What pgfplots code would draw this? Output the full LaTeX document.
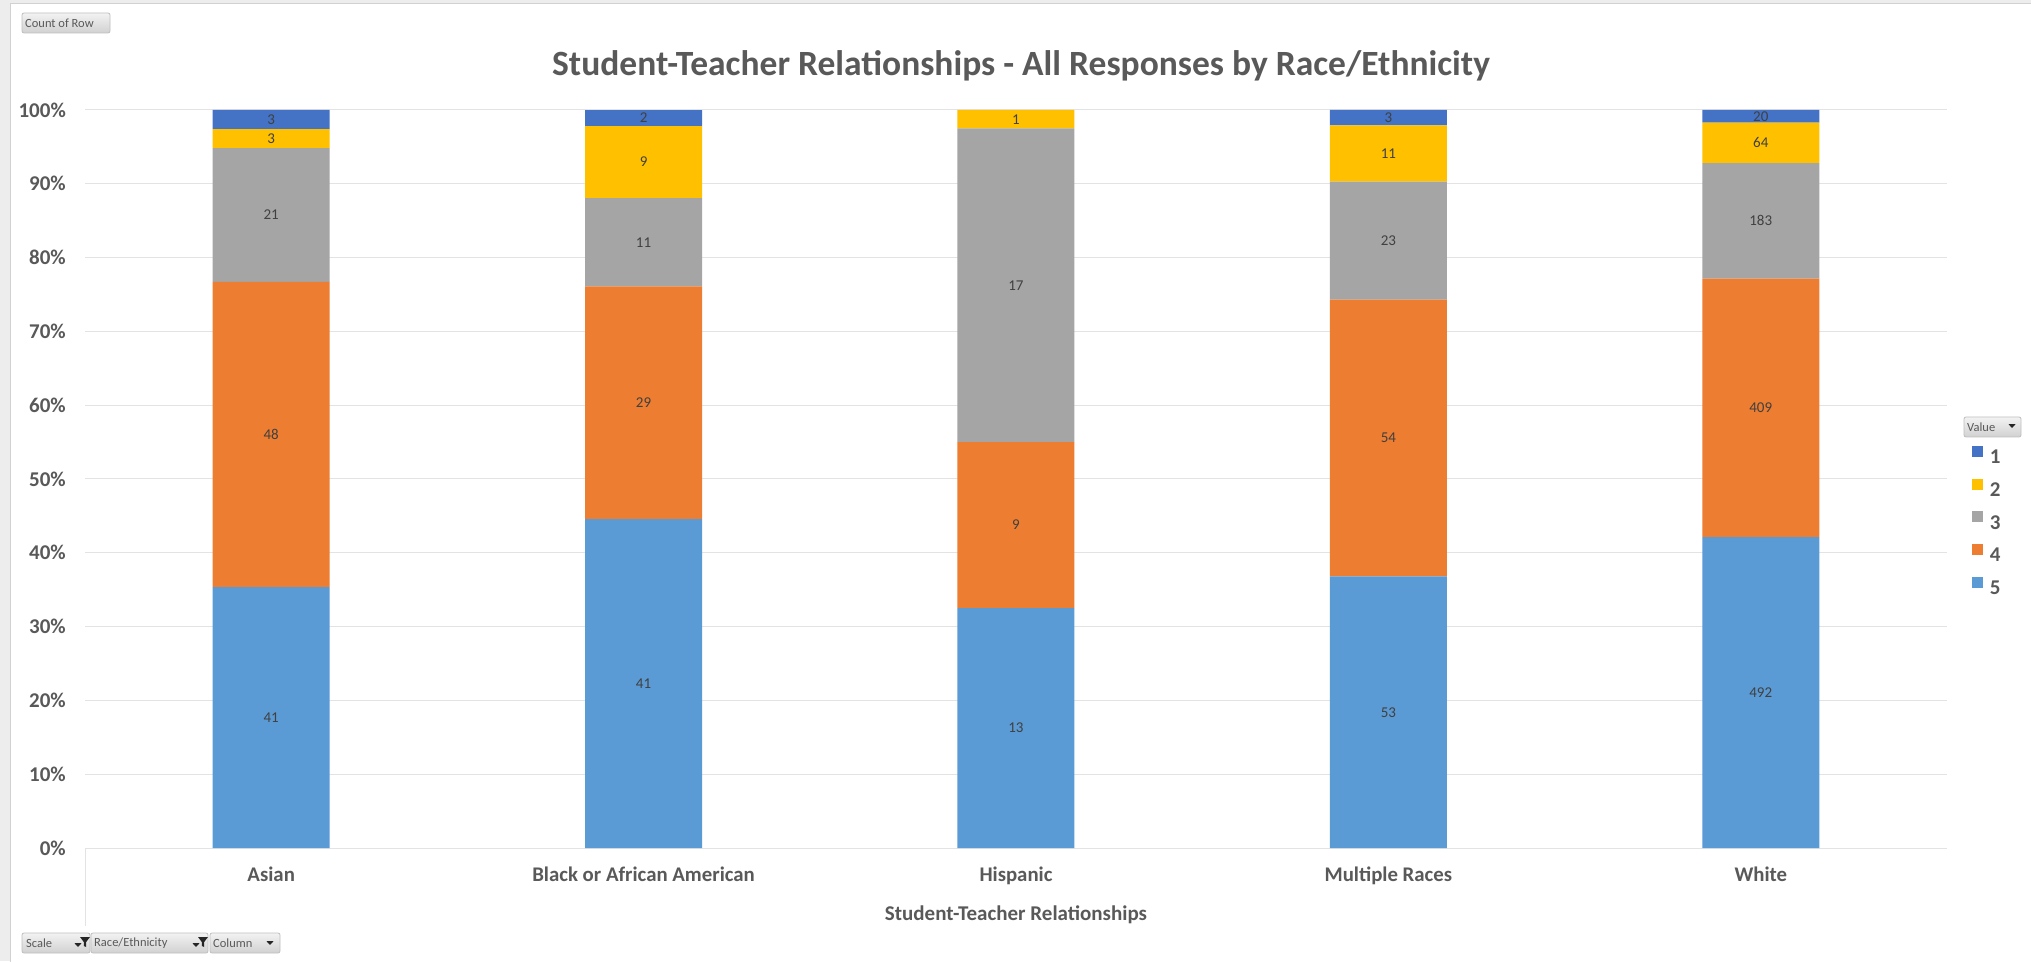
\documentclass[border=0pt]{standalone}
\usepackage{pgfplots}
\pgfplotsset{compat=1.18}
\usepackage{pgfplotstable}
\usepackage{fontspec}
\setmainfont{Carlito}
\definecolor{c1}{HTML}{4472C4}
\definecolor{c2}{HTML}{FFC000}
\definecolor{c3}{HTML}{A5A5A5}
\definecolor{c4}{HTML}{ED7D31}
\definecolor{c5}{HTML}{5B9BD5}
\definecolor{txt}{HTML}{595959}
\definecolor{lab}{HTML}{404040}
\definecolor{gridc}{HTML}{E3E3E3}
\definecolor{btnd}{HTML}{BFBFBF}

\pgfplotstableread{
x n1 n2 n3 n4 n5
0 3 3 21 48 41
1 2 9 11 29 41
2 0 1 17 9 13
3 3 11 23 54 53
4 20 64 183 409 492
}\data
\pgfplotstablecreatecol[create col/expr={\thisrow{n1}+\thisrow{n2}+\thisrow{n3}+\thisrow{n4}+\thisrow{n5}}]{tot}\data
\pgfplotstablecreatecol[create col/expr={100*\thisrow{n1}/\thisrow{tot}}]{p1}\data
\pgfplotstablecreatecol[create col/expr={100*\thisrow{n2}/\thisrow{tot}}]{p2}\data
\pgfplotstablecreatecol[create col/expr={100*\thisrow{n3}/\thisrow{tot}}]{p3}\data
\pgfplotstablecreatecol[create col/expr={100*\thisrow{n4}/\thisrow{tot}}]{p4}\data
\pgfplotstablecreatecol[create col/expr={100*\thisrow{n5}/\thisrow{tot}}]{p5}\data
\pgfplotstablecreatecol[create col/expr={\thisrow{p5}/2}]{m5}\data
\pgfplotstablecreatecol[create col/expr={\thisrow{p5}+\thisrow{p4}/2}]{m4}\data
\pgfplotstablecreatecol[create col/expr={\thisrow{p5}+\thisrow{p4}+\thisrow{p3}/2}]{m3}\data
\pgfplotstablecreatecol[create col/expr={100-\thisrow{p1}-\thisrow{p2}/2}]{m2}\data
\pgfplotstablecreatecol[create col/expr={\thisrow{n1}>0 ? 100-\thisrow{p1}/2 : -50}]{m1}\data

\tikzset{btn/.style={rounded corners=2pt, top color=white!95!black, bottom color=white!82!black, draw=btnd, line width=0.8pt},
  btntxt/.style={anchor=west, inner sep=0pt, font=\fontsize{12.5}{14}\selectfont, text=txt},
  arr/.style={fill=black!85}}
\newcommand\darr[2]{\fill[arr] (#1-3.5,#2+1.8) -- (#1+3.5,#2+1.8) -- (#1,#2-2) -- cycle;}
\newcommand\funnel[2]{\fill[arr] (#1-5,#2+6) -- (#1+5,#2+6) -- (#1+1.2,#2+1) -- (#1+1.2,#2-4) -- (#1-1.2,#2-3) -- (#1-1.2,#2+1) -- cycle;}

\begin{document}
\begin{tikzpicture}[x=1pt,y=1pt]
\path[use as bounding box] (0,0) rectangle (2031,961);
\fill[white!93!black] (0,0) rectangle (2031,961);
\fill[white] (10,-2) rectangle (2040,957);
\draw[white!82!black, line width=1pt] (10,-2) -- (10,957) -- (2040,957);

% top-left button
\draw[btn] (22,948) rectangle (110,928);
\node[btntxt] at (25,938) {Count of Row};
% bottom buttons
\draw[btn] (22,28) rectangle (90,8);
\node[btntxt] at (26,18) {Scale};
\darr{78}{16}\funnel{85}{18}
\draw[btn] (91,28) rectangle (208,8);
\node[btntxt] at (94,18) {Race/Ethnicity};
\darr{196}{16}\funnel{203}{18}
\draw[btn] (210,28) rectangle (280,8);
\node[btntxt] at (213,18) {Column};
\darr{270}{18}
% Value button
\draw[btn] (1964,544) rectangle (2021,524);
\node[btntxt] at (1967,534) {Value};
\darr{2012}{535}

% label frame
\draw[gridc, line width=1pt] (85,113) -- (85,35);

\node[anchor=base, font=\fontsize{35.5}{42}\selectfont\bfseries, text=txt] at (1021,885) {Student-Teacher Relationships - All Responses by Race/Ethnicity};

\begin{axis}[
  at={(85pt,113pt)}, anchor=south west,
  width=1862pt, height=738pt, scale only axis,
  xmin=-0.5, xmax=4.5, ymin=0, ymax=100, enlargelimits=false,
  ybar stacked, bar width=117pt,
  axis line style={draw=none},
  major tick length=0pt,
  ytick={0,10,20,30,40,50,60,70,80,90,100},
  yticklabels={0\%,10\%,20\%,30\%,40\%,50\%,60\%,70\%,80\%,90\%,100\%},
  ymajorgrids, grid style={color=gridc, line width=1pt},
  xtick={0,1,2,3,4},
  xticklabels={Asian,Black or African American,Hispanic,Multiple Races,White},
  xticklabel style={anchor=base, yshift=-33pt, font=\fontsize{20.8}{24}\selectfont\bfseries, text=txt},
  yticklabel style={anchor=east, xshift=-19pt, inner sep=0pt, font=\fontsize{21}{24}\selectfont\bfseries, text=txt},
  xlabel={Student-Teacher Relationships},
  xlabel style={at={(axis description cs:0.5,0)}, anchor=base, yshift=-72pt, font=\fontsize{21}{24}\selectfont\bfseries, text=txt},
  reverse legend,
  legend image code/.code={\fill[#1] (0pt,0.5pt) rectangle (11pt,11.5pt);},
  legend style={draw=none, fill=none, at={(1.01343,0.5452)}, anchor=north west,
    inner sep=0pt, outer sep=0pt, row sep=13.8pt, column sep=7pt,
    font=\fontsize{21}{24}\selectfont\bfseries,
    nodes={inner sep=0pt, text=txt}},
  legend cell align=left,
]
\addplot[fill=c5, draw=none] table[x=x, y=p5] {\data}; \addlegendentry{5}
\addplot[fill=c4, draw=none] table[x=x, y=p4] {\data}; \addlegendentry{4}
\addplot[fill=c3, draw=none] table[x=x, y=p3] {\data}; \addlegendentry{3}
\addplot[fill=c2, draw=none] table[x=x, y=p2] {\data}; \addlegendentry{2}
\addplot[fill=c1, draw=none] table[x=x, y=p1] {\data}; \addlegendentry{1}
\end{axis}

\begin{axis}[
  at={(85pt,113pt)}, anchor=south west,
  width=1862pt, height=738pt, scale only axis,
  xmin=-0.5, xmax=4.5, ymin=0, ymax=100, enlargelimits=false,
  hide axis,
  nodes near coords, point meta=explicit symbolic,
  every node near coord/.append style={anchor=center, inner sep=0pt, font=\fontsize{15}{18}\selectfont, text=lab},
  restrict y to domain=0:101,
]
\addplot[draw=none, mark=none] table[x=x, y=m5, meta=n5] {\data};
\addplot[draw=none, mark=none] table[x=x, y=m4, meta=n4] {\data};
\addplot[draw=none, mark=none] table[x=x, y=m3, meta=n3] {\data};
\addplot[draw=none, mark=none] table[x=x, y=m2, meta=n2] {\data};
\addplot[draw=none, mark=none] table[x=x, y=m1, meta=n1] {\data};
\end{axis}
\end{tikzpicture}
\end{document}
